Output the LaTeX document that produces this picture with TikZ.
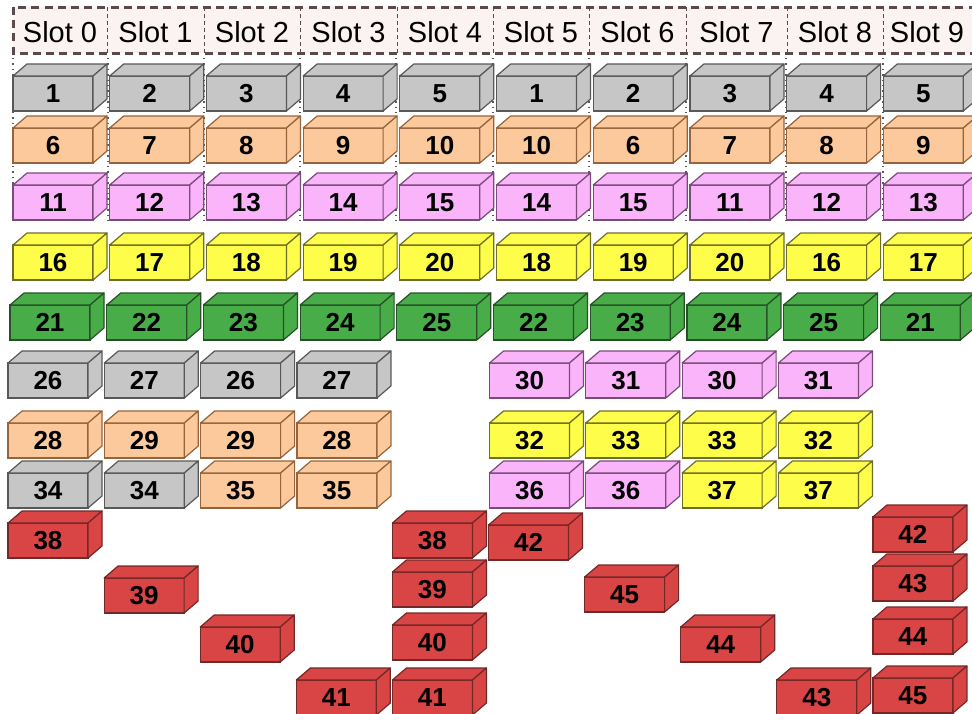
\documentclass[tikz,border=0pt]{standalone}
\usepackage{fontspec}
\setmainfont{Liberation Sans}
\definecolor{cHdr}{RGB}{251,242,242}
\definecolor{cHdrE}{RGB}{92,74,74}
\definecolor{cGry}{RGB}{198,198,198}
\definecolor{cGryE}{RGB}{88,88,88}
\definecolor{cOrg}{RGB}{251,201,156}
\definecolor{cOrgE}{RGB}{150,100,60}
\definecolor{cPnk}{RGB}{250,180,250}
\definecolor{cPnkE}{RGB}{120,75,120}
\definecolor{cYel}{RGB}{253,253,74}
\definecolor{cYelE}{RGB}{110,110,40}
\definecolor{cGrn}{RGB}{72,172,72}
\definecolor{cGrnE}{RGB}{40,80,40}
\definecolor{cRed}{RGB}{217,68,68}
\definecolor{cRedE}{RGB}{115,40,40}

% front face is the node, top and side faces hang on its corners
\newcommand{\brick}[5]{%
  \node[blk, fill=c#4, draw=c#4E] (#1) at ({#2},{#3}) {#5};
  \filldraw[side, fill=c#4, draw=c#4E] (#1.north west) -- ++(14,-12) -- ++(80,0)
    -- (#1.north east) -- cycle;
  \filldraw[side, fill=c#4, draw=c#4E] (#1.north east) -- ++(14,-12) -- ++(0,35)
    -- (#1.south east) -- cycle;
}

\begin{document}
\begin{tikzpicture}[
  x=0.5pt, y=-0.5pt,
  blk/.style={draw, line width=0.6pt, anchor=north west, inner sep=0pt, outer sep=0pt,
              minimum width=40pt, minimum height=17.5pt,
              font=\fontsize{13}{13}\selectfont\bfseries},
  side/.style={line width=0.6pt, line join=round},
  slotlbl/.style={font=\fontsize{14.5}{14.5}\selectfont, inner sep=0pt},
  hdrbox/.style={draw=cHdrE, fill=cHdr, line width=1.5pt, dash pattern=on 4pt off 2.6pt},
  sepline/.style={draw=cHdrE, line width=0.5pt, dash pattern=on 2pt off 1.5pt},
  guide/.style={draw=cGryE, line width=0.7pt, dotted},
]
\clip (0,0) rectangle (972,713);

% ----- slot header --------------------------------------------------------
\draw[hdrbox] (13,7) rectangle (990,53);
\foreach \sx in {107,204,300,397,493,589,686,787,883}
  \draw[sepline] (\sx,7) -- (\sx,53);
\foreach \cx [count=\i from 0] in {60,155.5,252,348.5,445,541,637.5,736.5,835,927}
  \node[slotlbl] (slot\i) at (\cx,32) {Slot \i};

% ----- slot guides behind the first rows ----------------------------------
\foreach \sx in {13,108,204,300,396,493,589,686,786,883}
  \draw[guide] (\sx,58) -- (\sx,225);

% ----- full rows ------------------------------------------------------------
\foreach \lab [count=\i from 0] in {1,2,3,4,5,1,2,3,4,5}
  \brick{ra\i}{13+96.7*\i}{76}{Gry}{\lab};
\foreach \lab [count=\i from 0] in {6,7,8,9,10,10,6,7,8,9}
  \brick{rb\i}{13+96.7*\i}{128}{Org}{\lab};
\foreach \lab [count=\i from 0] in {11,12,13,14,15,14,15,11,12,13}
  \brick{rc\i}{13+96.7*\i}{185}{Pnk}{\lab};
\foreach \lab [count=\i from 0] in {16,17,18,19,20,18,19,20,16,17}
  \brick{rd\i}{13+96.7*\i}{245}{Yel}{\lab};
\foreach \lab [count=\i from 0] in {21,22,23,24,25,22,23,24,25,21}
  \brick{re\i}{10+96.7*\i}{305}{Grn}{\lab};

% ----- partial rows -----------------------------------------------------------
\foreach \s/\y/\c/\lab [count=\k] in {
    0/363/Gry/26, 1/363/Gry/27, 2/363/Gry/26, 3/363/Gry/27,
    5/363/Pnk/30, 6/363/Pnk/31, 7/363/Pnk/30, 8/363/Pnk/31,
    0/423/Org/28, 1/423/Org/29, 2/423/Org/29, 3/423/Org/28,
    5/423/Yel/32, 6/423/Yel/33, 7/423/Yel/33, 8/423/Yel/32,
    0/473/Gry/34, 1/473/Gry/34, 2/473/Org/35, 3/473/Org/35,
    5/473/Pnk/36, 6/473/Pnk/36, 7/473/Yel/37, 8/473/Yel/37}
  \brick{low\k}{8+96.3*\s}{\y}{\c}{\lab};

% ----- red blocks -------------------------------------------------------------
\foreach \s/\y/\lab [count=\k] in {
    0/523/38, 1/578/39, 2/627/40, 3/680/41,
    4/523/38, 4/572/39, 4/625/40, 4/680/41,
    5/525/42, 6/577/45, 7/627/44, 8/680/43,
    9/517/42, 9/566/43, 9/619/44, 9/678/45}
  \brick{red\k}{8+96.1*\s}{\y}{Red}{\lab};

\end{tikzpicture}
\end{document}
